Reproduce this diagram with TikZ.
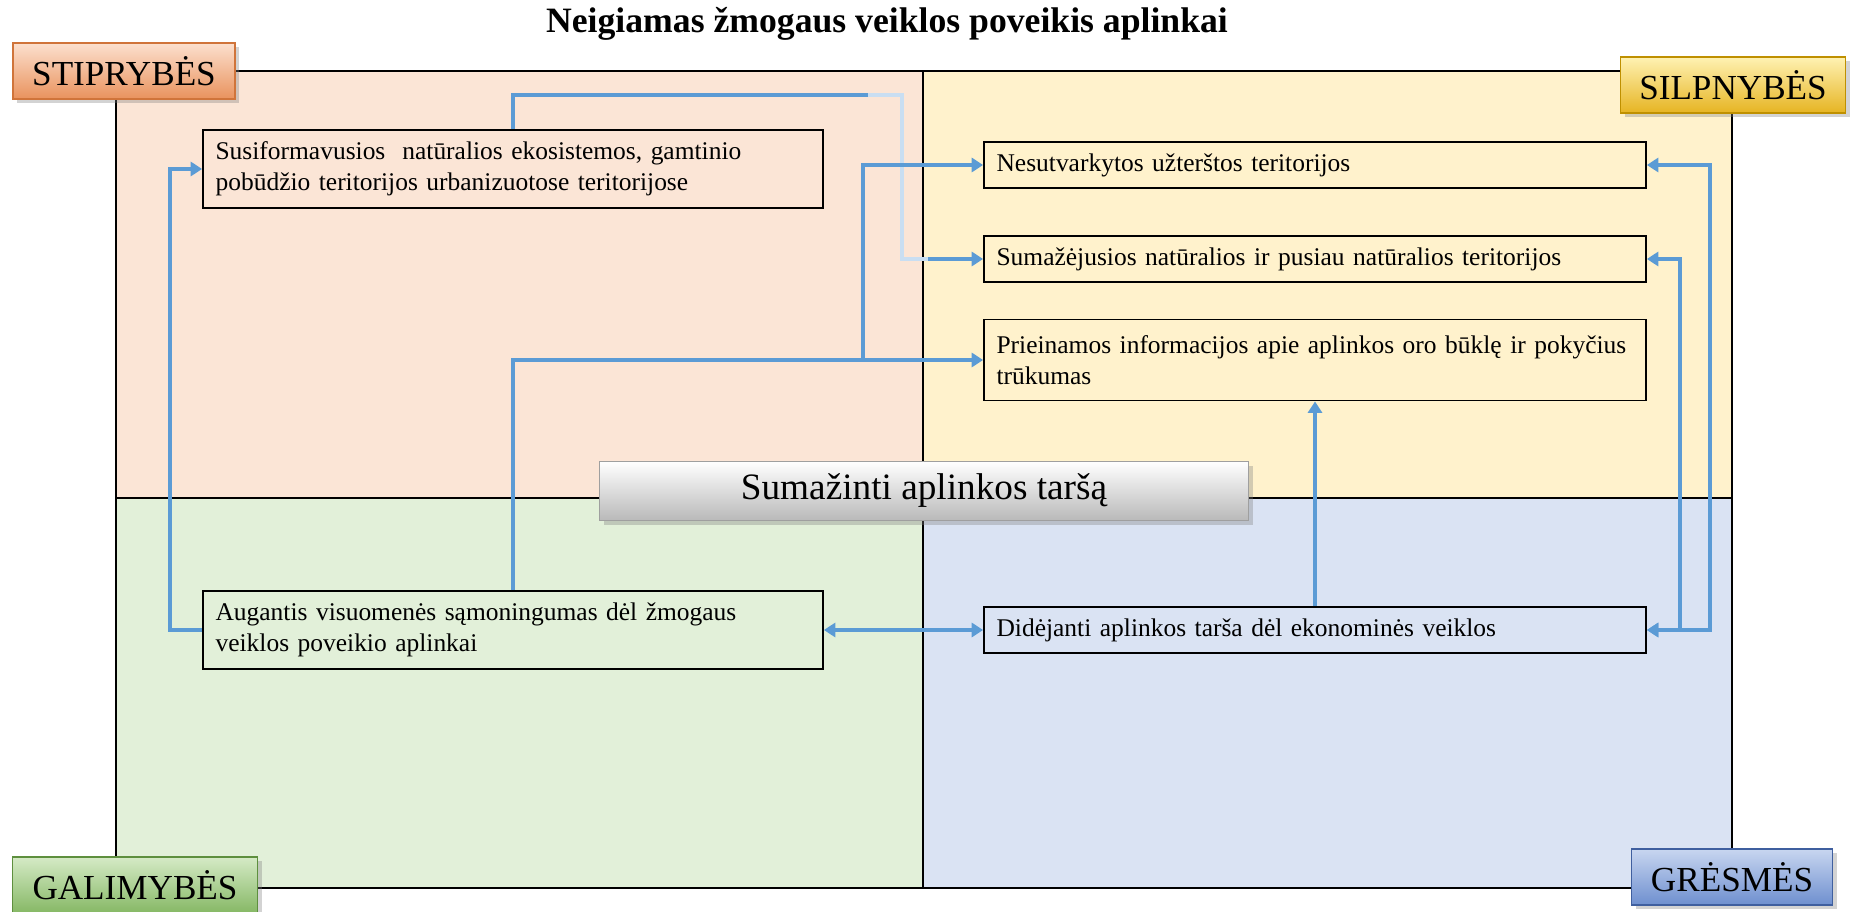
\documentclass[tikz,border=0pt]{standalone}
\usepackage{fontspec}
\setmainfont{Liberation Serif}
\usepackage{tikz}
\usetikzlibrary{positioning,arrows.meta,shadows,calc}

\definecolor{peach}{HTML}{FBE5D6}
\definecolor{cream}{HTML}{FFF2CC}
\definecolor{sage}{HTML}{E2F0D9}
\definecolor{sky}{HTML}{DAE3F3}
\definecolor{linkblue}{HTML}{5B9BD5}
\definecolor{paleblue}{HTML}{C9DEF2}
\definecolor{orangeTop}{HTML}{FCE0CE}
\definecolor{orangeMid}{HTML}{F6B48A}
\definecolor{orangeBot}{HTML}{E9925D}
\definecolor{orangeLine}{HTML}{D0743A}
\definecolor{goldTop}{HTML}{FFF2B3}
\definecolor{goldMid}{HTML}{FFD966}
\definecolor{goldBot}{HTML}{E6B422}
\definecolor{goldLine}{HTML}{BF9000}
\definecolor{greenTop}{HTML}{D5EAC6}
\definecolor{greenMid}{HTML}{A9D18E}
\definecolor{greenBot}{HTML}{86B865}
\definecolor{greenLine}{HTML}{5E8F3E}
\definecolor{blueTop}{HTML}{C8D6F0}
\definecolor{blueMid}{HTML}{8FAADC}
\definecolor{blueBot}{HTML}{6E8FCF}
\definecolor{blueLine}{HTML}{3F5F9F}

\tikzstyle{frame} = [draw=black, line width=1.1pt]
\tikzstyle{item} = [rectangle, draw=black, line width=1.1pt, inner xsep=0.25cm, align=left, font=\fontsize{14.5}{17.6}\selectfont]
\tikzstyle{wide} = [item, text width=12.74cm, minimum height=0.92cm]
\tikzstyle{narrow} = [item, text width=11.9cm, minimum height=1.56cm]
\tikzstyle{corner} = [rectangle, line width=0.8pt, minimum height=1.12cm, font=\fontsize{20}{24}\selectfont,
	drop shadow={shadow xshift=2.5pt, shadow yshift=-2.5pt, opacity=0.35}]
\tikzstyle{arrow} = [line width=2.2pt, draw=linkblue, ->]
\tikzstyle{twoway} = [line width=2.2pt, draw=linkblue, <->]
\tikzstyle{fade} = [line width=2.2pt, draw=paleblue]
\pgfdeclarelayer{background}
\pgfsetlayers{background,main}

\begin{document}
\begin{tikzpicture}[x=0.02cm, y=-0.02cm, >={Triangle[length=6.5pt,width=8pt]}]
\tikzset{%
	goal/.style = { rectangle, draw=gray!75, line width=0.8pt, top color=white, middle color=gray!30, bottom color=gray!55, minimum width=12.98cm, minimum height=1.18cm, font=\fontsize{21.2}{24}\selectfont, drop shadow={shadow xshift=2.5pt, shadow yshift=-2.5pt, opacity=0.35} },
	strong/.style = { corner, draw=orangeLine, top color=orangeTop, middle color=orangeMid, bottom color=orangeBot, minimum width=4.44cm },
	weak/.style = { corner, draw=goldLine, top color=goldTop, middle color=goldMid, bottom color=goldBot, minimum width=4.5cm },
	chance/.style = { corner, draw=greenLine, top color=greenTop, middle color=greenMid, bottom color=greenBot, minimum width=4.9cm },
	threat/.style = { corner, draw=blueLine, top color=blueTop, middle color=blueMid, bottom color=blueBot, minimum width=4.02cm }
}
\useasboundingbox (0,0) rectangle (1854,912);

\begin{pgfonlayer}{background}
\fill[peach]	(116,71) rectangle (923,498);
\fill[cream]	(923,71) rectangle (1732,498);
\fill[sage]		(116,498) rectangle (923,888);
\fill[sky]		(923,498) rectangle (1732,888);
\draw[frame]	(116,71) rectangle (1732,888);
\draw[frame]	(923,71) -- (923,888);
\draw[frame]	(116,498) -- (1732,498);
\end{pgfonlayer}

\node(Title)		[font=\bfseries\fontsize{20.3}{24}\selectfont] at (887,24)
								{Neigiamas žmogaus veiklos poveikis aplinkai};

\node(Ecosystems)	[narrow] at (513,169)
								{Susiformavusios\ \ natūralios ekosistemos, gamtinio\\pobūdžio teritorijos urbanizuotose teritorijose};
\node(Awareness)	[narrow] at (513,630)
								{Augantis visuomenės sąmoningumas dėl žmogaus\\veiklos poveikio aplinkai};

\node(Polluted)		[wide] at (1315,165)
								{Nesutvarkytos užterštos teritorijos};
\node(Shrinking)	[wide] at (1315,259)
								{Sumažėjusios natūralios ir pusiau natūralios teritorijos};
\node(Information)	[wide, minimum height=1.62cm] at (1315,360)
								{Prieinamos informacijos apie aplinkos oro būklę ir pokyčius\\trūkumas};
\node(Pollution)	[wide] at (1315,630)
								{Didėjanti aplinkos tarša dėl ekonominės veiklos};

\node(Goal)			[goal] at (924,491)
								{Sumažinti aplinkos taršą};

\node(Strengths)	[strong] at (124,71)	{STIPRYBĖS};
\node(Weaknesses)	[weak] at (1733,85)		{SILPNYBĖS};
\node(Chances)		[chance] at (135,885)	{GALIMYBĖS};
\node(Threats)		[threat] at (1732,877)	{GRĖSMĖS};

\coordinate (TopBend)	at (902,95);
\coordinate (FadeStart)	at (868,95);
\coordinate (FadeEnd)	at (928,259);
\coordinate (MidBend)	at ($(Information.west)+(-120,0)$);

\draw [arrow]	(Ecosystems.north) |- (TopBend) |- (Shrinking.west);
\draw [fade]	(FadeStart) -- (TopBend) |- (FadeEnd);
\draw [arrow]	(Awareness.north) |- (Information.west);
\draw [arrow]	(MidBend) |- (Polluted.west);
\draw [arrow]	(Awareness.west) -- ++(-32,0) |- (Ecosystems.west);
\draw [twoway]	(Awareness.east) -- (Pollution.west);
\draw [arrow]	(Pollution.north) -- (Information.south);
\draw [twoway]	(Pollution.east) -- ++(63,0) |- (Polluted.east);
\draw [twoway]	(Pollution.east) -- ++(33,0) |- (Shrinking.east);

\end{tikzpicture}
\end{document}
